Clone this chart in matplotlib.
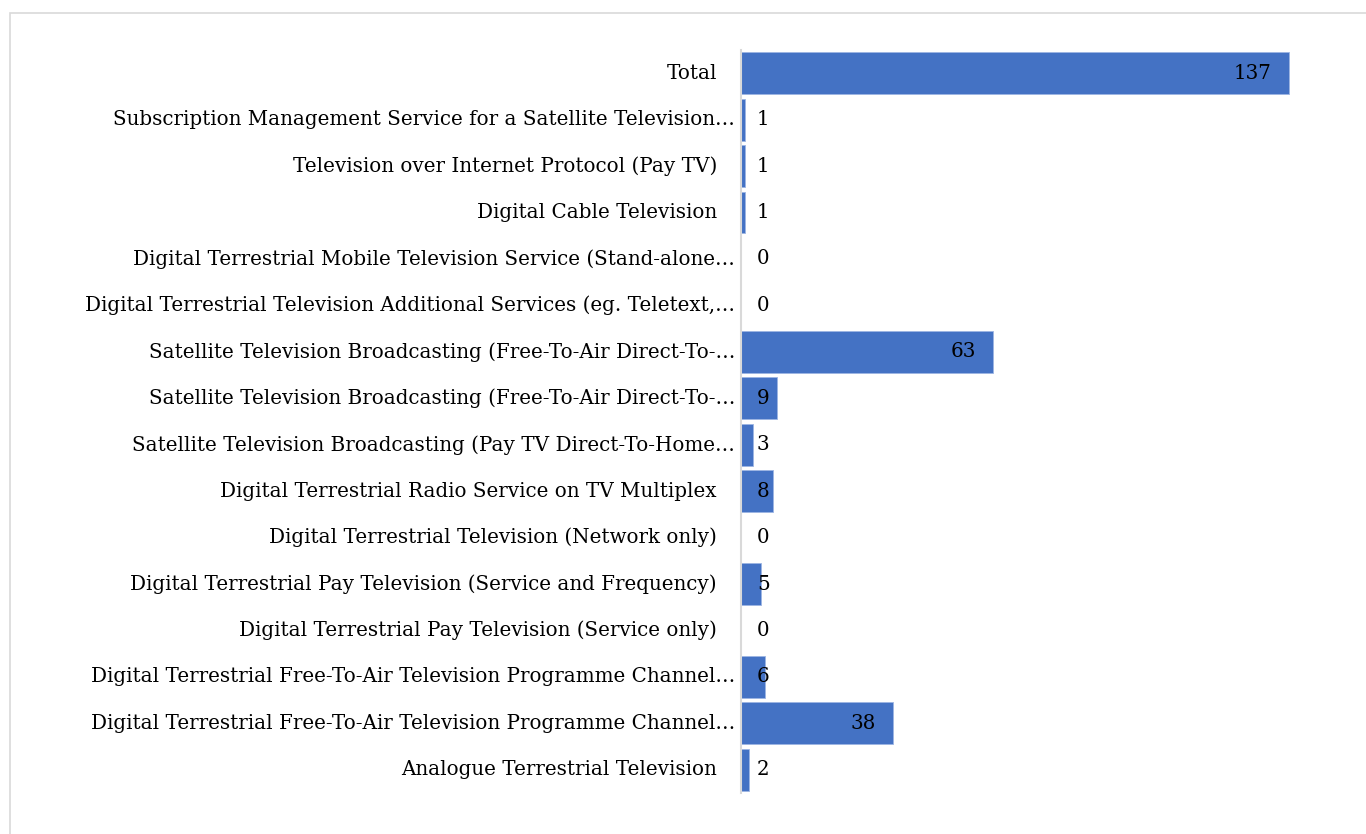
import matplotlib.pyplot as plt
from matplotlib.patches import Rectangle
from matplotlib.transforms import blended_transform_factory

# service categories, listed top to bottom
services = [
    "Total",
    "Subscription Management Service for a Satellite Television…",
    "Television over Internet Protocol (Pay TV)",
    "Digital Cable Television",
    "Digital Terrestrial Mobile Television Service (Stand-alone…",
    "Digital Terrestrial Television Additional Services (eg. Teletext,…",
    "Satellite Television Broadcasting (Free-To-Air Direct-To-…",
    "Satellite Television Broadcasting (Free-To-Air Direct-To-…",
    "Satellite Television Broadcasting (Pay TV Direct-To-Home…",
    "Digital Terrestrial Radio Service on TV Multiplex",
    "Digital Terrestrial Television (Network only)",
    "Digital Terrestrial Pay Television (Service and Frequency)",
    "Digital Terrestrial Pay Television (Service only)",
    "Digital Terrestrial Free-To-Air Television Programme Channel…",
    "Digital Terrestrial Free-To-Air Television Programme Channel…",
    "Analogue Terrestrial Television",
]
counts = [137, 1, 1, 1, 0, 0, 63, 9, 3, 8, 0, 5, 0, 6, 38, 2]

BAR_COLOR = "#4472C4"
FONT = "DejaVu Serif"
FS = 14.3

fig = plt.figure(figsize=(13.66, 8.34), dpi=100)

# thin grey chart border
fig.patches.append(Rectangle((9.5 / 1366, -0.1), 1.2, 1 - 12.5 / 834 + 0.1,
                             transform=fig.transFigure, fill=False,
                             edgecolor="#d9d9d9", linewidth=1.2))

ax = fig.add_axes([741 / 1366, 1 - 793 / 834, 600 / 1366, 743 / 834])
ypos = list(range(len(services)))
ax.barh(ypos, counts, height=0.9, color=BAR_COLOR,
        edgecolor="#9db5e3", linewidth=0.6)
ax.set_xlim(0, 150)
ax.set_ylim(len(services) - 0.5, -0.5)

for side in ["top", "right", "bottom"]:
    ax.spines[side].set_visible(False)
ax.spines["left"].set_color("#d9d9d9")
ax.spines["left"].set_linewidth(1.5)
ax.set_xticks([])
ax.set_yticks([])

# category labels, truncated ones sit closer to the axis
lbl_tr = blended_transform_factory(ax.transAxes, ax.transData)
for y, name in zip(ypos, services):
    off = -6 if name.endswith("…") else -24
    ax.annotate(name, (0, y), xycoords=lbl_tr, xytext=(off * 0.72, 0),
                textcoords="offset points", ha="right", va="center",
                fontsize=FS, family=FONT, color="black")

# value labels: inside end for long bars, fixed spot near the axis otherwise
for y, v in zip(ypos, counts):
    if v >= 10:
        ax.annotate(str(v), (v, y), xytext=(-17 * 0.72, 0),
                    textcoords="offset points", ha="right", va="center",
                    fontsize=FS, family=FONT, color="black")
    else:
        ax.annotate(str(v), (0, y), xytext=(16 * 0.72, 0),
                    textcoords="offset points", ha="left", va="center",
                    fontsize=FS, family=FONT, color="black")

plt.savefig("out.png", dpi=100)
